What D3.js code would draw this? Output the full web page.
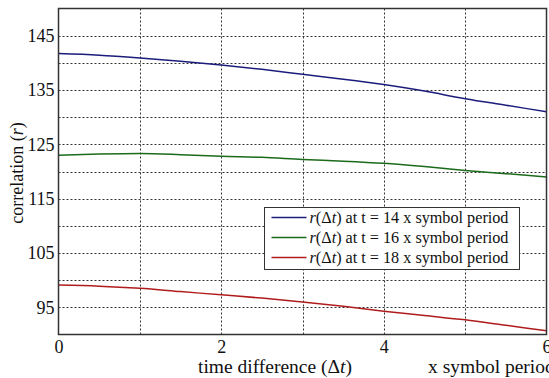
<!DOCTYPE html>
<html>
<head>
<meta charset="utf-8">
<script src="https://cdn.jsdelivr.net/npm/d3@7"></script>
<style>
  body { margin: 0; background: #fff; overflow: hidden; }
  text { font-family: "Liberation Serif", "Times New Roman", serif; fill: #111; }
</style>
</head>
<body>
<div id="chart"></div>
<script>
// time difference in symbol periods
var timeDiff = [0, 0.5, 1, 1.5, 2, 2.5, 3, 3.5, 4, 4.5, 5, 5.5, 6];
var corrT14 = [141.7, 141.4, 140.9, 140.3, 139.6, 138.8, 137.9, 137.0, 136.0, 134.8, 133.4, 132.2, 131.0];
var corrT16 = [123.0, 123.2, 123.3, 123.1, 122.8, 122.6, 122.2, 121.9, 121.5, 120.9, 120.2, 119.6, 119.0];
var corrT18 = [99.1, 98.9, 98.5, 97.9, 97.3, 96.7, 96.0, 95.2, 94.3, 93.5, 92.7, 91.7, 90.7];
var seriesNames = ["14", "16", "18"];
var seriesColors = ["#1c1c7c", "#1b6b1b", "#b01c1c"];
var xTicks = [0, 2, 4, 6];
var yTicks = [95, 105, 115, 125, 135, 145];

var width = 549, height = 378;
var margin = { top: 8.5, right: 2.5, bottom: 43.5, left: 58.5 };

var svg = d3.select("#chart").append("svg")
    .attr("width", width).attr("height", height);

var x = d3.scaleLinear().domain([0, 6]).range([margin.left, width - margin.right]);
var y = d3.scaleLinear().domain([90, 150]).range([height - margin.bottom, margin.top]);

// grid
var grid = svg.append("g")
    .attr("stroke", "#333")
    .attr("stroke-width", 1)
    .attr("stroke-dasharray", "2,2");

grid.selectAll(".gx").data(d3.range(1, 6))
  .enter().append("line")
    .attr("x1", function (d) { return Math.round(x(d)) + 0.5; })
    .attr("x2", function (d) { return Math.round(x(d)) + 0.5; })
    .attr("y1", y(150)).attr("y2", y(90));

grid.selectAll(".gy").data(d3.range(95, 150, 5))
  .enter().append("line")
    .attr("y1", function (d) { return Math.round(y(d)) + 0.5; })
    .attr("y2", function (d) { return Math.round(y(d)) + 0.5; })
    .attr("x1", x(0)).attr("x2", x(6));

// curves
var allSeries = [corrT14, corrT16, corrT18];
var line = d3.line()
    .x(function (d, i) { return x(timeDiff[i]); })
    .y(function (d) { return y(d); })
    .curve(d3.curveMonotoneX);

svg.selectAll(".curve").data(allSeries)
  .enter().append("path")
    .attr("class", "curve")
    .attr("fill", "none")
    .attr("stroke", function (d, i) { return seriesColors[i]; })
    .attr("stroke-width", 1.5)
    .attr("d", line);

// frame
svg.append("rect")
    .attr("x", x(0)).attr("y", y(150))
    .attr("width", x(6) - x(0)).attr("height", y(90) - y(150))
    .attr("fill", "none").attr("stroke", "#333").attr("stroke-width", 1.5);

// axes
var xAxis = svg.append("g")
    .attr("transform", "translate(0," + y(90) + ")")
    .call(d3.axisBottom(x).tickValues(xTicks).tickFormat(d3.format("d")).tickSize(0).tickPadding(6));
var yAxis = svg.append("g")
    .attr("transform", "translate(" + x(0) + ",0)")
    .call(d3.axisLeft(y).tickValues(yTicks).tickFormat(d3.format("d")).tickSize(0).tickPadding(4));
[xAxis, yAxis].forEach(function (a) {
    a.select(".domain").remove();
    a.selectAll("text").attr("font-size", 18).attr("fill", "#111");
});

// axis titles
var ylab = svg.append("text")
    .attr("transform", "translate(23,173) rotate(-90)")
    .attr("text-anchor", "middle")
    .attr("font-size", 18);
ylab.append("tspan").text("correlation (");
ylab.append("tspan").attr("font-style", "italic").text("r");
ylab.append("tspan").text(")");

var xlab = svg.append("text")
    .attr("x", 275).attr("y", 373)
    .attr("text-anchor", "middle")
    .attr("font-size", 19.5);
xlab.append("tspan").text("time difference (\u0394");
xlab.append("tspan").attr("font-style", "italic").text("t");
xlab.append("tspan").text(")");

svg.append("text")
    .attr("x", 428).attr("y", 373)
    .attr("font-size", 19.5)
    .text("x symbol period");

// legend
var legend = svg.append("g").attr("transform", "translate(264.5,207.5)");
legend.append("rect")
    .attr("width", 255).attr("height", 62)
    .attr("fill", "#fff").attr("stroke", "#333").attr("stroke-width", 1);

var rows = legend.selectAll(".row").data(seriesNames)
  .enter().append("g")
    .attr("transform", function (d, i) { return "translate(0," + (10 + i * 20) + ")"; });

rows.append("line")
    .attr("x1", 7).attr("x2", 42)
    .attr("stroke", function (d, i) { return seriesColors[i]; })
    .attr("stroke-width", 1.5);

var lt = rows.append("text")
    .attr("x", 45).attr("y", 5)
    .attr("font-size", 16.2);
lt.append("tspan").attr("font-style", "italic").text("r");
lt.append("tspan").text("(\u0394");
lt.append("tspan").attr("font-style", "italic").text("t");
lt.append("tspan").text(function (d) { return ") at t = " + d + " x symbol period"; });
</script>
</body>
</html>
